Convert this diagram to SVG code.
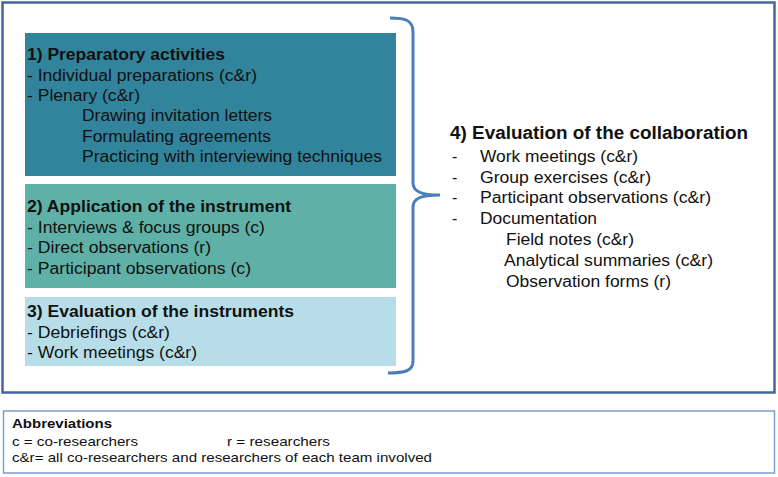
<svg xmlns="http://www.w3.org/2000/svg" width="778" height="477" viewBox="0 0 778 477">
<style>
text{font-family:"Liberation Sans",Arial,Helvetica,sans-serif;fill:#111;}
.t{font-size:16px;font-weight:bold;}
.b{font-size:16px;}
.t4{font-size:18px;font-weight:bold;}
.s{font-size:13.5px;}
.sb{font-size:13.5px;font-weight:bold;}
</style>
<rect x="2.5" y="2.5" width="772" height="390" fill="#fff" stroke="#42669d" stroke-width="2.5"/>
<g id="box1" font-family="Liberation Sans, Arial, sans-serif">
<rect x="25" y="33" width="371" height="143" fill="#31849b"/>
<text class="t" x="27" y="60" textLength="198" lengthAdjust="spacingAndGlyphs">1) Preparatory activities</text>
<text class="b" x="27" y="81" textLength="230" lengthAdjust="spacingAndGlyphs">- Individual preparations (c&amp;r)</text>
<text class="b" x="27" y="101" textLength="113" lengthAdjust="spacingAndGlyphs">- Plenary (c&amp;r)</text>
<text class="b" x="82" y="121" textLength="190" lengthAdjust="spacingAndGlyphs">Drawing invitation letters</text>
<text class="b" x="82" y="142" textLength="189" lengthAdjust="spacingAndGlyphs">Formulating agreements</text>
<text class="b" x="82" y="162" textLength="300" lengthAdjust="spacingAndGlyphs">Practicing with interviewing techniques</text>
</g>
<g id="box2" font-family="Liberation Sans, Arial, sans-serif">
<rect x="25" y="184" width="371" height="104" fill="#5fb0a6"/>
<text class="t" x="27" y="212" textLength="264" lengthAdjust="spacingAndGlyphs">2) Application of the instrument</text>
<text class="b" x="27" y="233" textLength="238" lengthAdjust="spacingAndGlyphs">- Interviews &amp; focus groups (c)</text>
<text class="b" x="27" y="253" textLength="184" lengthAdjust="spacingAndGlyphs">- Direct observations (r)</text>
<text class="b" x="27" y="274" textLength="224" lengthAdjust="spacingAndGlyphs">- Participant observations (c)</text>
</g>
<g id="box3" font-family="Liberation Sans, Arial, sans-serif">
<rect x="25" y="297" width="371" height="69" fill="#b7dee8"/>
<text class="t" x="27" y="317" textLength="267" lengthAdjust="spacingAndGlyphs">3) Evaluation of the instruments</text>
<text class="b" x="27" y="338" textLength="143" lengthAdjust="spacingAndGlyphs">- Debriefings (c&amp;r)</text>
<text class="b" x="27" y="358" textLength="170" lengthAdjust="spacingAndGlyphs">- Work meetings (c&amp;r)</text>
</g>
<g id="connectors">
<path d="M390,18 C405,18 413,20 413,32 L413,183 C413,191 420,195 440,195 C420,195 413,199 413,207 L413,361 C413,371 405,373 388,373" fill="none" stroke="#4a7ebb" stroke-width="3"/>
</g>
<g id="box4" font-family="Liberation Sans, Arial, sans-serif">
<text class="t4" x="450" y="139" textLength="298" lengthAdjust="spacingAndGlyphs">4) Evaluation of the collaboration</text>
<text class="b" x="452" y="162">-</text>
<text class="b" x="480" y="162" textLength="158" lengthAdjust="spacingAndGlyphs">Work meetings (c&amp;r)</text>
<text class="b" x="452" y="183">-</text>
<text class="b" x="480" y="183" textLength="171" lengthAdjust="spacingAndGlyphs">Group exercises (c&amp;r)</text>
<text class="b" x="452" y="203">-</text>
<text class="b" x="480" y="203" textLength="231" lengthAdjust="spacingAndGlyphs">Participant observations (c&amp;r)</text>
<text class="b" x="452" y="224">-</text>
<text class="b" x="480" y="224" textLength="117" lengthAdjust="spacingAndGlyphs">Documentation</text>
<text class="b" x="506" y="245" textLength="128" lengthAdjust="spacingAndGlyphs">Field notes (c&amp;r)</text>
<text class="b" x="504" y="266" textLength="209" lengthAdjust="spacingAndGlyphs">Analytical summaries (c&amp;r)</text>
<text class="b" x="506" y="287" textLength="165" lengthAdjust="spacingAndGlyphs">Observation forms (r)</text>
</g>
<g id="abbreviations" font-family="Liberation Sans, Arial, sans-serif">
<rect x="3.5" y="411" width="771" height="62" fill="#fff" stroke="#7b9fd3" stroke-width="1.5"/>
<text class="sb" x="12" y="428" textLength="100" lengthAdjust="spacingAndGlyphs">Abbreviations</text>
<text class="s" x="12" y="446" textLength="126" lengthAdjust="spacingAndGlyphs">c = co-researchers</text>
<text class="s" x="227" y="446" textLength="103" lengthAdjust="spacingAndGlyphs">r = researchers</text>
<text class="s" x="12" y="462" textLength="420" lengthAdjust="spacingAndGlyphs">c&amp;r= all co-researchers and researchers of each team involved</text>
</g>
</svg>
